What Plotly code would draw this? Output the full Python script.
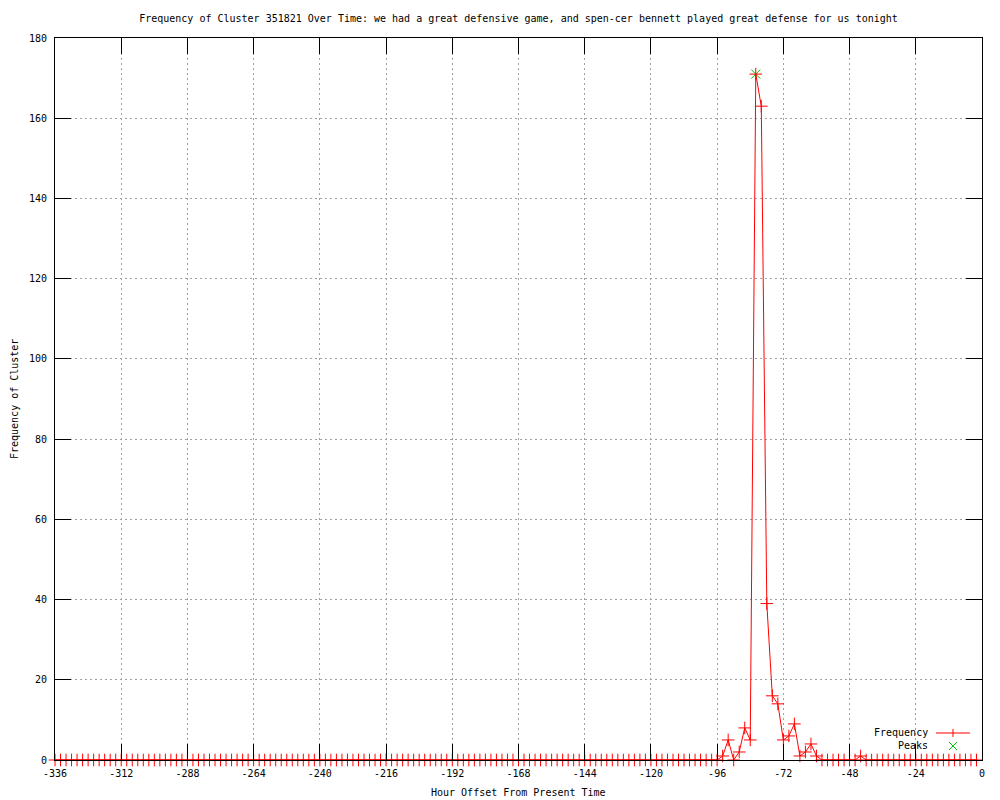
import plotly.graph_objects as go

# ---- data ----
hours = list(range(-336, 0, 2))
freq = [
    0, 0, 0, 0, 0, 0, 0, 0, 0, 0, 0, 0,   # -336 .. -314
    0, 0, 0, 0, 0, 0, 0, 0, 0, 0, 0, 0,   # -312 .. -290
    0, 0, 0, 0, 0, 0, 0, 0, 0, 0, 0, 0,   # -288 .. -266
    0, 0, 0, 0, 0, 0, 0, 0, 0, 0, 0, 0,   # -264 .. -242
    0, 0, 0, 0, 0, 0, 0, 0, 0, 0, 0, 0,   # -240 .. -218
    0, 0, 0, 0, 0, 0, 0, 0, 0, 0, 0, 0,   # -216 .. -194
    0, 0, 0, 0, 0, 0, 0, 0, 0, 0, 0, 0,   # -192 .. -170
    0, 0, 0, 0, 0, 0, 0, 0, 0, 0, 0, 0,   # -168 .. -146
    0, 0, 0, 0, 0, 0, 0, 0, 0, 0, 0, 0,   # -144 .. -122
    0, 0, 0, 0, 0, 0, 0, 0, 0, 0, 0, 0,   # -120 .. -98
    0, 1, 5, 0, 2, 8, 5, 171, 163, 39, 16, 14,   # -96 .. -74
    5, 6, 9, 1, 2, 4, 1, 0, 0, 0, 0, 0,   # -72 .. -50
    0, 0, 1, 0, 0, 0, 0, 0, 0, 0, 0, 0,   # -48 .. -26
    0, 0, 0, 0, 0, 0, 0, 0, 0, 0, 0, 0,   # -24 .. -2
]
peak_hours = [-82]
peak_values = [171]

x_ticks = [-336, -312, -288, -264, -240, -216, -192, -168, -144, -120, -96, -72, -48, -24, 0]
x_ticktext = [str(v) for v in x_ticks]
y_ticks = [0, 20, 40, 60, 80, 100, 120, 140, 160, 180]

title_text = ("Frequency of Cluster 351821 Over Time: we had a great defensive game, "
              "and spen-cer bennett played great defense for us tonight")
x_title = "Hour Offset From Present Time"
y_title = "Frequency of Cluster"

FONT = "DejaVu Sans Mono"
RED = "#ff0000"
GREEN = "#00c000"
TXT = dict(family=FONT, size=10, color="black")

fig = go.Figure()
fig.add_trace(go.Scatter(
    x=peak_hours, y=peak_values, mode="markers", name="Peaks",
    marker=dict(symbol="x-thin", size=9, line=dict(color=GREEN, width=1)),
    cliponaxis=False, showlegend=False,
))
fig.add_trace(go.Scatter(
    x=hours, y=freq, mode="lines+markers", name="Frequency",
    line=dict(color=RED, width=1),
    marker=dict(symbol="cross-thin", size=9, line=dict(color=RED, width=1)),
    cliponaxis=False, showlegend=False,
))

axis_common = dict(
    showline=True, linecolor="black", linewidth=1, mirror="ticks",
    ticks="inside", ticklen=16, tickwidth=1, tickcolor="black",
    showgrid=True, gridcolor="#a0a0a0", gridwidth=1, griddash="2px,3px",
    zeroline=False, automargin=False,
    tickfont=TXT,
)

fig.update_xaxes(
    range=[-336, 0], tickmode="array", tickvals=x_ticks, ticktext=x_ticktext,
    ticklabelstandoff=4,
    **axis_common,
)
fig.update_yaxes(
    range=[0, 180], tickmode="array", tickvals=y_ticks,
    ticklabelstandoff=5,
    **axis_common,
)

# axis titles
fig.add_annotation(x=0.5, y=-0.0457, xref="paper", yref="paper", text=x_title,
                   showarrow=False, xanchor="center", yanchor="middle", font=TXT)
fig.add_annotation(x=-0.0442, y=0.5, xref="paper", yref="paper", text=y_title,
                   showarrow=False, xanchor="center", yanchor="middle", textangle=-90, font=TXT)

# legend (gnuplot style: text right-aligned, key sample to the right)
leg_text_x = 0.944
leg_key_x0 = 0.9504
leg_key_x1 = 0.987
leg_key_xm = 0.9687
leg_y1 = 0.0374
leg_y2 = 0.0194
fig.add_annotation(x=leg_text_x, y=leg_y1, xref="paper", yref="paper", text="Frequency",
                   showarrow=False, xanchor="right", yanchor="middle", font=TXT)
fig.add_annotation(x=leg_text_x, y=leg_y2, xref="paper", yref="paper", text="Peaks",
                   showarrow=False, xanchor="right", yanchor="middle", font=TXT)
fig.add_shape(type="line", xref="paper", yref="paper", x0=leg_key_x0, x1=leg_key_x1,
              y0=leg_y1, y1=leg_y1, line=dict(color=RED, width=1))
fig.add_shape(type="line", xref="paper", yref="paper", xsizemode="pixel", ysizemode="pixel",
              xanchor=leg_key_xm, yanchor=leg_y1, x0=0, x1=0, y0=-4, y1=4,
              line=dict(color=RED, width=1))
fig.add_shape(type="line", xref="paper", yref="paper", xsizemode="pixel", ysizemode="pixel",
              xanchor=leg_key_xm, yanchor=leg_y2, x0=-4, x1=4, y0=-4, y1=4,
              line=dict(color=GREEN, width=1))
fig.add_shape(type="line", xref="paper", yref="paper", xsizemode="pixel", ysizemode="pixel",
              xanchor=leg_key_xm, yanchor=leg_y2, x0=-4, x1=4, y0=4, y1=-4,
              line=dict(color=GREEN, width=1))

fig.update_layout(
    width=1000, height=800,
    margin=dict(l=55, r=18, t=38, b=40, pad=0, autoexpand=False),
    paper_bgcolor="white", plot_bgcolor="white",
    title=dict(text=title_text, x=0.5, xref="paper", y=1 - 18 / 800, yanchor="middle",
               font=TXT, automargin=False),
    showlegend=False,
)

fig.write_html("out.html", config={"displayModeBar": False},
               post_script="document.body.style.margin='0';document.body.style.overflow='hidden';")
